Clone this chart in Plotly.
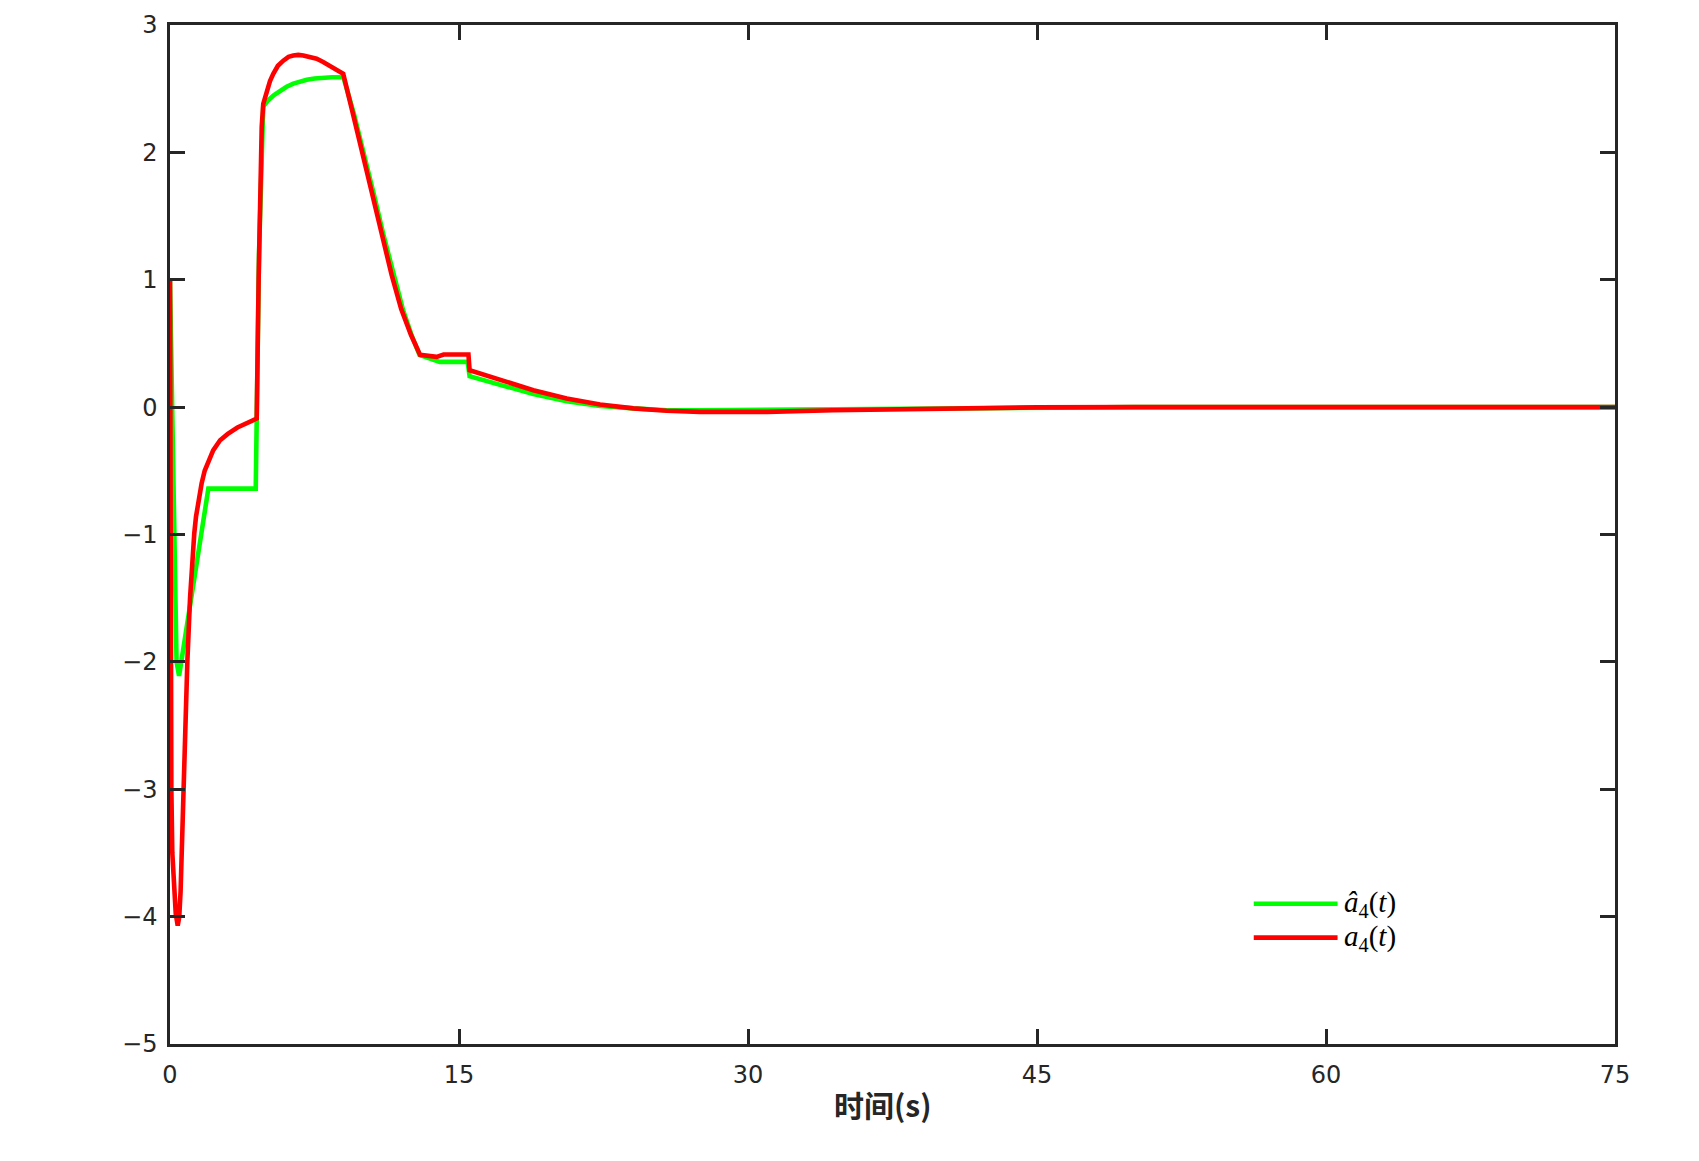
import plotly.graph_objects as go

# ---- data ----
t_est = [0, 0.12, 0.23, 0.34, 0.47, 1.99, 4.45, 4.5, 4.62, 4.84, 5.1, 5.4, 5.71, 6.05, 6.4, 6.75, 7.1,
         7.5, 7.96, 8.4, 8.82, 9.0, 9.55, 10.1, 10.6, 11.1, 11.6, 12.1, 12.55, 12.95, 14.0, 15.45,
         15.55, 17.13, 18.86, 20.59, 22.32, 24.05, 25.78, 27.5, 31.0, 34.4, 37.9, 41.0, 45.0, 50.0,
         60.0, 75.0]
a_est = [1.0, 0.0, -0.99, -2.0, -2.11, -0.64, -0.64, 0.0, 1.2, 2.36, 2.41, 2.45, 2.486, 2.515, 2.54, 2.556,
         2.57, 2.58, 2.588, 2.59, 2.59, 2.59, 2.3, 1.98, 1.66, 1.34, 1.04, 0.76, 0.56, 0.41, 0.355, 0.355,
         0.243, 0.173, 0.102, 0.047, 0.01, -0.01, -0.024, -0.024, -0.02, -0.01, -0.005, -0.002, 0.0, 0.0,
         0.0, 0.0]

t_true = [0, 0.01, 0.02, 0.04, 0.07, 0.12, 0.2, 0.3, 0.4, 0.48, 0.55, 0.62, 0.69, 0.8, 0.9, 1.04, 1.15,
          1.26, 1.35, 1.45, 1.64, 1.8, 2.0, 2.24, 2.6, 3.0, 3.5, 4.0, 4.5, 4.6, 4.67, 4.76, 4.84,
          5.02, 5.19, 5.36, 5.6, 5.88, 6.15, 6.4, 6.66, 6.92, 7.25, 7.61, 7.95, 8.3, 8.65, 8.99,
          9.5, 10.0, 10.5, 11.0, 11.5, 12.0, 12.5,
          12.98, 13.84, 14.2, 15.49, 15.55, 17.13, 18.86, 20.59, 22.32, 24.05, 25.78, 27.5, 31.0,
          34.4, 37.9, 41.0, 45.0, 50.0, 60.0, 75.0]
a_true = [1.0, -0.5, -1.5, -2.2, -3.0, -3.5, -3.8, -3.98, -4.07, -4.0, -3.8, -3.4, -3.0, -2.45, -2.0, -1.5, -1.2,
          -0.99, -0.86, -0.75, -0.6, -0.5, -0.42, -0.34, -0.26, -0.21, -0.16, -0.12, -0.09, 1.0, 1.62, 2.2, 2.38,
          2.486, 2.56, 2.617, 2.68, 2.72, 2.75, 2.76, 2.765, 2.76, 2.75, 2.735, 2.71, 2.68, 2.65, 2.617,
          2.3, 1.98, 1.66, 1.34, 1.04, 0.77, 0.57,
          0.41, 0.395, 0.413, 0.413, 0.29, 0.217, 0.133, 0.068, 0.021, -0.01, -0.029, -0.037, -0.037,
          -0.024, -0.016, -0.008, -0.002, 0.0, 0.0, 0.0]

x_ticks = [0, 15, 30, 45, 60, 75]
y_ticks = [-5, -4, -3, -2, -1, 0, 1, 2, 3]
legend_labels = ["<i>â</i><sub>4</sub>(<i>t</i>)", "<i>a</i><sub>4</sub>(<i>t</i>)"]
series_colors = ["#00FF00", "#FF0000"]
x_title = "<b>时间(s)</b>"

fig = go.Figure()
fig.add_trace(go.Scatter(x=t_est, y=a_est, mode="lines", name="â4(t)",
                         line=dict(color=series_colors[0], width=4.6), showlegend=False))
fig.add_trace(go.Scatter(x=t_true, y=a_true, mode="lines", name="a4(t)",
                         line=dict(color=series_colors[1], width=4.6), showlegend=False))

axis_color = "#262626"
fig.update_xaxes(range=[0, 75], tickvals=x_ticks, ticks="inside", ticklen=15, tickwidth=2.5,
                 tickcolor=axis_color, showline=True, linecolor=axis_color, linewidth=2.5,
                 mirror="ticks", showgrid=False, zeroline=False, ticklabelstandoff=7,
                 automargin=False,
                 tickfont=dict(family="DejaVu Sans", size=24, color=axis_color))
fig.update_yaxes(range=[-5, 3], tickvals=y_ticks, ticks="inside", ticklen=15, tickwidth=2.5,
                 tickcolor=axis_color, showline=True, linecolor=axis_color, linewidth=2.5,
                 mirror="ticks", showgrid=False, zeroline=False, ticklabelstandoff=5,
                 automargin=False,
                 tickfont=dict(family="DejaVu Sans", size=24, color=axis_color))

# x-axis title
fig.add_annotation(xref="paper", yref="paper", x=0.4934, y=-0.059, xanchor="center", yanchor="middle",
                   text=x_title, showarrow=False,
                   font=dict(family="Noto Sans CJK SC", size=30, color=axis_color))

# manual legend (long line samples as in the reference)
leg_y = [0.1377, 0.1044]
for lbl, col, yy in zip(legend_labels, series_colors, leg_y):
    fig.add_shape(type="line", xref="paper", yref="paper", x0=0.750, x1=0.808, y0=yy, y1=yy,
                  line=dict(color=col, width=4.6))
    fig.add_annotation(xref="paper", yref="paper", x=0.811, y=yy, xanchor="left", yanchor="middle",
                       text=lbl, showarrow=False,
                       font=dict(family="Liberation Serif", size=29, color="#000000"))

fig.update_layout(width=1683, height=1145,
                  margin=dict(l=162, r=76, t=16.5, b=108.5),
                  plot_bgcolor="white", paper_bgcolor="white")

fig.write_html("out.html")
